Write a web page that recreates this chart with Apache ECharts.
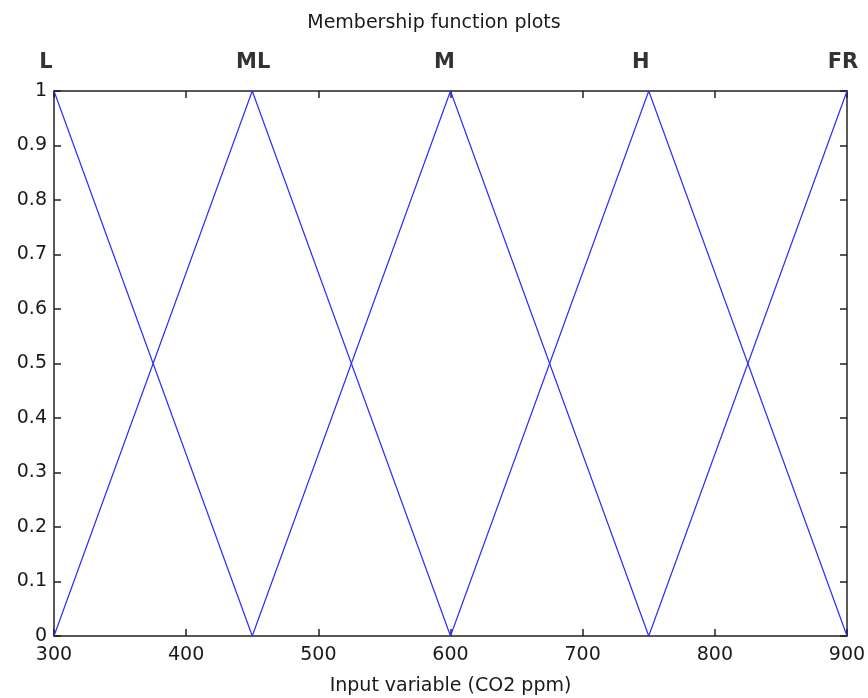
<!DOCTYPE html>
<html><head><meta charset="utf-8">
<script src="https://cdn.jsdelivr.net/npm/echarts@6/dist/echarts.min.js"></script>
<style>html,body{margin:0;padding:0;background:#fff}#c{width:868px;height:698px}</style>
</head><body><div id="c"></div>
<script>
var mfNames = ['L', 'ML', 'M', 'H', 'FR'];
var mfPeaks = [300, 450, 600, 750, 900];
var mfL  = [[300, 1], [450, 0]];
var mfML = [[300, 0], [450, 1], [600, 0]];
var mfM  = [[450, 0], [600, 1], [750, 0]];
var mfH  = [[600, 0], [750, 1], [900, 0]];
var mfFR = [[750, 0], [900, 1]];
var yTicks = ['0', '0.1', '0.2', '0.3', '0.4', '0.5', '0.6', '0.7', '0.8', '0.9', '1'];

// label nudges (style only)
var labelDx = [-8, 1, -6, -8, -4];

var font = 'DejaVu Sans, Verdana, sans-serif';
var axisLineStyle = {color: '#222', width: 1.5};
function mkSeries(name, data) {
  return {name: name, type: 'line', data: data, symbol: 'none', xAxisIndex: 0, yAxisIndex: 0,
    lineStyle: {color: '#2b2bff', width: 1.2}, animation: false, z: 3};
}
var labelData = mfPeaks.map(function (x, i) {
  return {value: [x, 1], name: mfNames[i], label: {offset: [labelDx[i], 0]}};
});
var chart = echarts.init(document.getElementById('c'));
chart.setOption({
  animation: false,
  title: {text: 'Membership function plots', left: 'center', top: 9,
    textStyle: {fontFamily: font, fontSize: 19, fontWeight: 'normal', color: '#1a1a1a'}},
  grid: {left: 54, right: 21, top: 91, bottom: 62, containLabel: false, outerBoundsMode: 'none'},
  xAxis: [
    {type: 'value', min: 300, max: 900, interval: 100, position: 'bottom',
      name: 'Input variable (CO2 ppm)', nameLocation: 'middle', nameGap: 41,
      nameTextStyle: {fontFamily: font, fontSize: 19, color: '#1a1a1a'},
      axisLine: {show: true, onZero: false, lineStyle: axisLineStyle},
      axisTick: {show: true, inside: true, length: 7, lineStyle: axisLineStyle},
      axisLabel: {fontFamily: font, fontSize: 19, color: '#1a1a1a', margin: 10},
      splitLine: {show: false}},
    {type: 'value', min: 300, max: 900, interval: 100, position: 'top',
      axisLine: {show: true, onZero: false, lineStyle: axisLineStyle},
      axisTick: {show: true, inside: true, length: 7, lineStyle: axisLineStyle},
      axisLabel: {show: false}, splitLine: {show: false}}
  ],
  yAxis: [
    {type: 'value', min: 0, max: 1, interval: 0.1, position: 'left',
      axisLine: {show: true, onZero: false, lineStyle: axisLineStyle},
      axisTick: {show: true, inside: true, length: 7, lineStyle: axisLineStyle},
      axisLabel: {fontFamily: font, fontSize: 19, color: '#1a1a1a', margin: 7,
        formatter: function (v) { return yTicks[Math.round(v * 10)]; }},
      splitLine: {show: false}},
    {type: 'value', min: 0, max: 1, interval: 0.1, position: 'right',
      axisLine: {show: true, onZero: false, lineStyle: axisLineStyle},
      axisTick: {show: true, inside: true, length: 7, lineStyle: axisLineStyle},
      axisLabel: {show: false}, splitLine: {show: false}}
  ],
  series: [mkSeries('L', mfL), mkSeries('ML', mfML), mkSeries('M', mfM), mkSeries('H', mfH), mkSeries('FR', mfFR),
    {type: 'scatter', data: labelData, symbolSize: 0, clip: false, silent: true, z: 5,
      label: {show: true, position: 'top', distance: 18, formatter: '{b}',
        fontFamily: font, fontSize: 21, fontWeight: 'bold', color: '#000'}}]
});
</script></body></html>
